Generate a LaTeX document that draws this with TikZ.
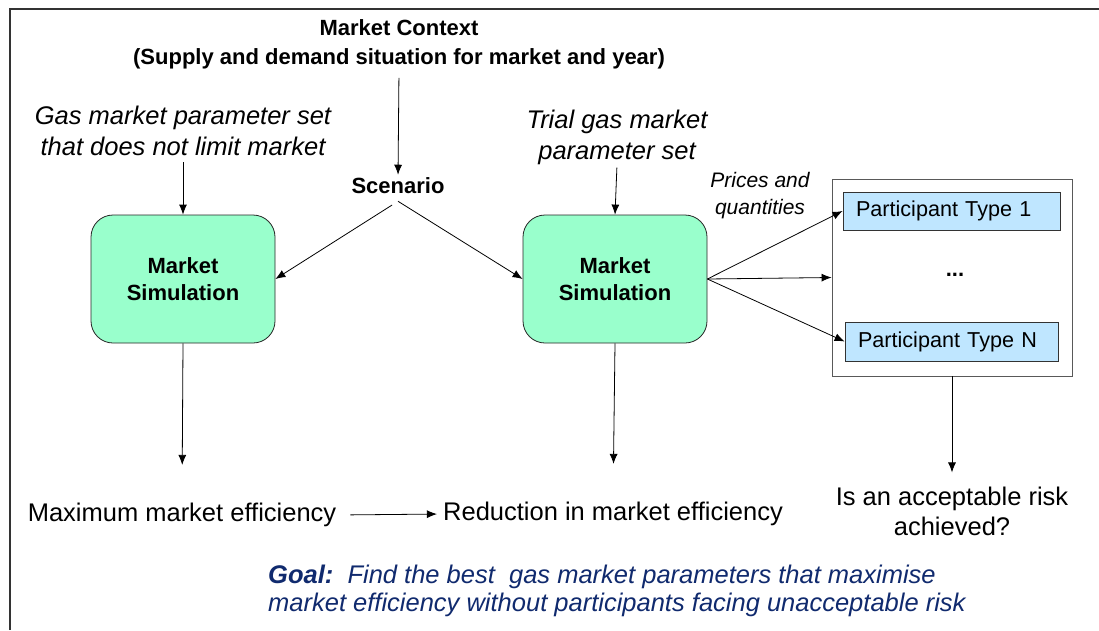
\documentclass[tikz,border=0pt]{standalone}
\usepackage{fontspec}
\setmainfont{Liberation Sans}
\usetikzlibrary{arrows.meta}
\definecolor{mint}{HTML}{99FFCC}
\definecolor{partblue}{HTML}{BFE6FF}
\definecolor{goalblue}{HTML}{102A6E}
\definecolor{framegray}{HTML}{333333}
\tikzset{
  arr/.style={-{Latex[length=10pt,width=8pt]}, line width=0.8pt},
  ln/.style={line width=0.8pt},
  boldlbl/.style={font=\fontsize{22}{29}\selectfont\bfseries, align=center, inner sep=0pt},
  itlbl/.style={font=\fontsize{25.5}{31}\selectfont\itshape, align=center, inner sep=0pt},
  plainlbl/.style={font=\fontsize{25.5}{30}\selectfont, align=center, inner sep=0pt},
  simbox/.style={draw=black!85, line width=0.8pt, fill=mint, rounded corners=22pt,
    minimum width=184pt, minimum height=128pt, align=center,
    font=\fontsize{22}{27}\selectfont\bfseries},
  partbox/.style={draw=black!80, line width=0.8pt, fill=partblue, inner xsep=13pt,
    inner ysep=0pt, text width=191pt, align=left, minimum height=38pt,
    font=\fontsize{21.6}{26}\selectfont},
}
\begin{document}
\begin{tikzpicture}[x=1pt,y=-1pt]
\useasboundingbox (0,0) rectangle (1099,630);
\fill[white] (0,0) rectangle (1099,630);
% frame (only top and left edges visible)
\draw[line width=2pt, framegray] (10,630) -- (10,9) -- (1099,9);

% market context
\node[boldlbl] (ctx) at (399,44) {Market Context\\(Supply and demand situation for market and year)};
\node[boldlbl] (scen) at (398,186) {Scenario};

% parameter labels
\node[itlbl] (gas1) at (183,131) {Gas market parameter set\\that does not limit market};
\node[itlbl] (trial) at (617,137) {Trial gas market\\parameter set};
\node[font=\fontsize{21}{27}\selectfont\itshape, align=center, inner sep=0pt] (prices) at (760,196) {Prices and\\quantities};

% simulation boxes
\node[simbox] (sim1) at (183,279) {Market\\Simulation};
\node[simbox] (sim2) at (615,279) {Market\\Simulation};

% participant container
\node[draw=black!65, line width=0.8pt, fill=white, minimum width=240pt, minimum height=197pt, inner sep=0pt] (part) at (952,277.5) {};
\node[partbox] (p1) at (951.5,211) {Participant Type 1};
\node[partbox, text width=187pt, minimum height=39pt] (pN) at (951.5,341.5) {Participant Type N};
\node[font=\fontsize{22}{26}\selectfont\bfseries, inner sep=0pt] (dots) at (955,275) {...};

% outcomes
\node[plainlbl] (maxeff) at (182,515) {Maximum market efficiency};
\node[plainlbl] (red) at (613,514) {Reduction in market efficiency};
\node[plainlbl] (risk) at (952,511) {Is an acceptable risk\\achieved?};

% goal
\node[font=\fontsize{25.5}{28}\selectfont\itshape, text=goalblue, align=left, inner sep=0pt, anchor=west] (goal) at (268,591)
  {\textbf{Goal:}\ \ Find the best\ \ gas market parameters that maximise\\market efficiency without participants facing unacceptable risk};

% connectors
\draw[arr, shorten <=9pt, shorten >=3pt] (ctx.south) -- (scen.north);
\draw[arr, shorten <=7pt] ([yshift=-7pt]scen.south) -- (sim1.east);
\draw[arr] ([yshift=-7pt]scen.south) -- (sim2.west);
\draw[arr, shorten <=6pt] (gas1.south) -- (sim1.north);
\draw[arr, shorten <=3pt] (trial.south) -- (sim2.north);
\draw[arr] (sim2.east) -- (p1.west);
\draw[arr] (sim2.east) -- (part.west);
\draw[arr] (sim2.east) -- (pN.west);
\draw[arr, shorten >=38pt] (sim1.south) -- (maxeff.north);
\draw[arr, shorten >=38pt] (sim2.south) -- (red.north);
\draw[arr, shorten >=14pt] (part.south) -- (risk.north);
\draw[arr, shorten <=14pt, shorten >=6pt] (maxeff.east) -- (red.west);
\end{tikzpicture}
\end{document}
